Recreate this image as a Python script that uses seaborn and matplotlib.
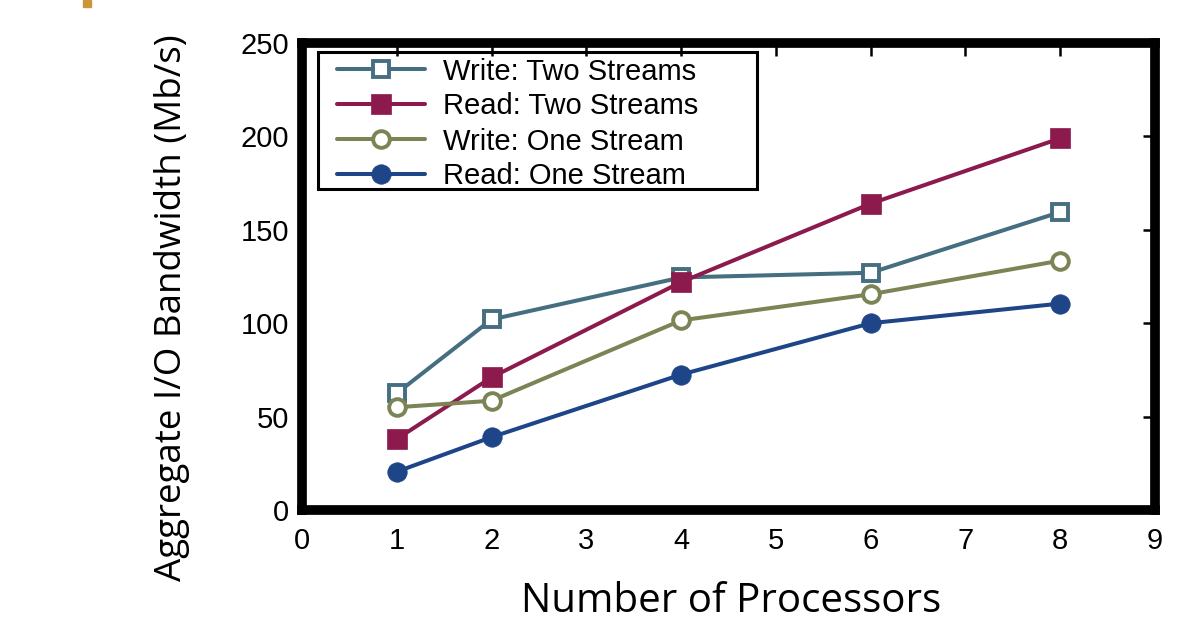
import matplotlib
matplotlib.use("Agg")
import matplotlib.pyplot as plt
import seaborn as sns
import pandas as pd
from matplotlib.patches import Rectangle

processors = [1, 2, 4, 6, 8]
write_two = [62.5, 102, 124.5, 127, 159.5]
read_two = [38, 71, 122, 164, 199]
write_one = [55, 58.5, 101.5, 115.5, 133.5]
read_one = [20.5, 39, 72.5, 100, 110.5]
series_names = ["Write: Two Streams", "Read: Two Streams", "Write: One Stream", "Read: One Stream"]
x_ticks = list(range(0, 10))
y_ticks = [0, 50, 100, 150, 200, 250]

sns.set_theme(style="white")
plt.rcParams['font.family'] = ['Liberation Sans', 'DejaVu Sans']

W, H = 1199, 623
fig = plt.figure(figsize=(W / 100, H / 100), dpi=100)
AX_L, AX_R, AX_T, AX_B = 302, 1155, 43, 510
ax = fig.add_axes([AX_L / W, 1 - AX_B / H, (AX_R - AX_L) / W, (AX_B - AX_T) / H])


def ax_x(px):
    return (px - AX_L) / (AX_R - AX_L)


def ax_y(py):
    return (AX_B - py) / (AX_B - AX_T)


styles = [
    dict(color="#456E80", marker="s", hollow=True),
    dict(color="#8C1A4C", marker="s", hollow=False),
    dict(color="#7A8455", marker="o", hollow=True),
    dict(color="#1D4587", marker="o", hollow=False),
]
values = [write_two, read_two, write_one, read_one]
for name, vals, st in zip(series_names, values, styles):
    df = pd.DataFrame({"x": processors, "y": vals})
    if st["hollow"]:
        kw = dict(markerfacecolor="white", markersize=12, markeredgewidth=2.8)
    else:
        kw = dict(markerfacecolor=st["color"], markersize=14, markeredgewidth=0.5)
    sns.lineplot(data=df, x="x", y="y", ax=ax, color=st["color"], linewidth=2.9,
                 marker=st["marker"], markeredgecolor=st["color"], label=name, **kw)

ax.set_xlim(0, 9)
ax.set_ylim(0, 250)
ax.set_xticks(x_ticks)
ax.set_yticks(y_ticks)
ax.tick_params(direction="in", length=9, width=1.8, top=True, right=True,
               labelsize=21, colors="black", labelcolor="black")
ax.tick_params(axis="y", pad=9)
ax.tick_params(axis="x", pad=12)
for sp in ax.spines.values():
    sp.set_linewidth(7)
    sp.set_color("black")
ax.set_xlabel("Number of Processors", fontsize=29, family=["Open Sans", "DejaVu Sans"],
              color="black")
ax.set_ylabel("Aggregate I/O Bandwidth (Mb/s)", fontsize=26.5, family=["Open Sans", "DejaVu Sans"],
              color="black")
ax.xaxis.set_label_coords(ax_x(731), ax_y(581))
ax.yaxis.set_label_coords(ax_x(190), ax_y(308))

leg = ax.legend(loc="upper left", bbox_to_anchor=(ax_x(337), ax_y(57.5)), fontsize=21, frameon=False,
                handlelength=3.0, labelspacing=0.24, borderpad=0, handletextpad=0.65,
                borderaxespad=0)
for t in leg.get_texts():
    t.set_color("black")
ax.add_patch(Rectangle((ax_x(318), ax_y(189)), ax_x(757) - ax_x(318), ax_y(52) - ax_y(189),
                       transform=ax.transAxes, fill=False, edgecolor="black", linewidth=2.2,
                       zorder=6, clip_on=False))

fig.patches.append(Rectangle((83 / W, 1 - 7 / H), 8 / W, 7 / H,
                             transform=fig.transFigure, color="#C9963A", zorder=5))

fig.savefig("out.png", dpi=100)
